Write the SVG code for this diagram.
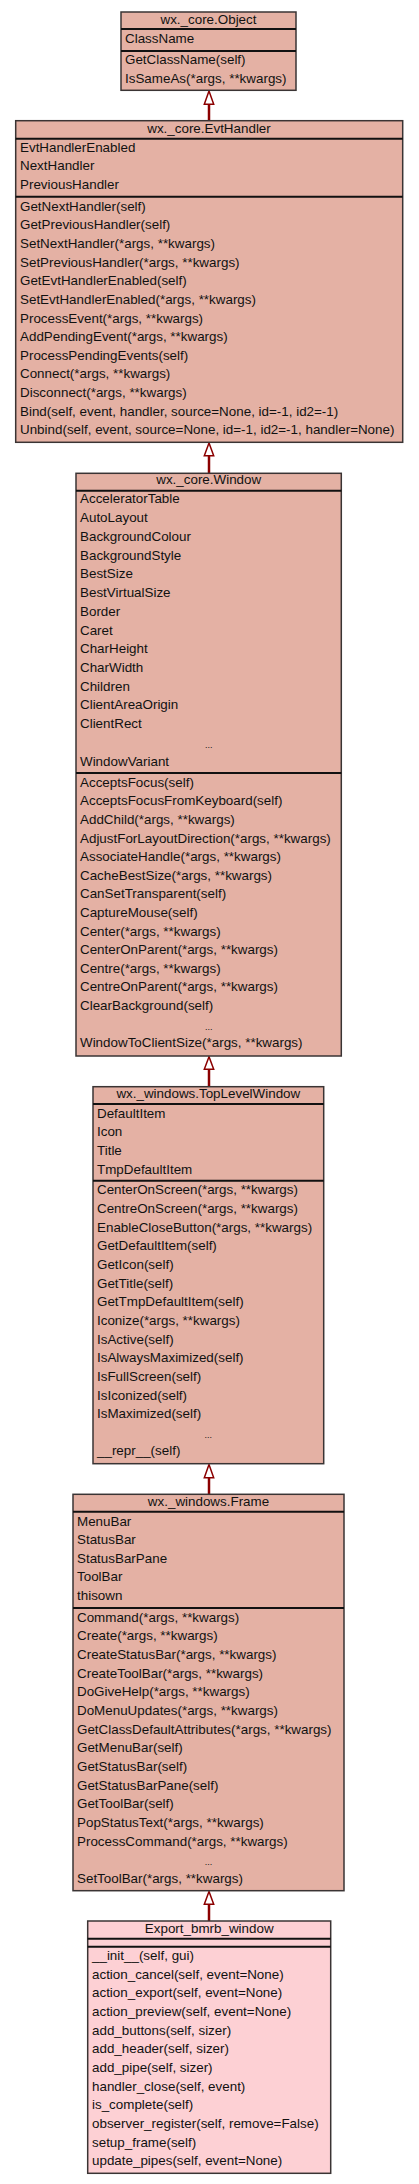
<svg xmlns="http://www.w3.org/2000/svg" width="419" height="2184" viewBox="0 0 419 2184">
<style>
.box{fill:#e4b1a4;stroke:#3a3434;stroke-width:1.5}
.exp{fill:#fdd0d4;stroke:#3a3434;stroke-width:1.5}
.sep{stroke:#111;stroke-width:2}
text{font-family:"Liberation Sans",Arial,sans-serif;font-size:13.4px;fill:#111}
.c{text-anchor:middle}
.d{text-anchor:middle;font-size:9px}
.edge{stroke:#8b0000;stroke-width:2.5;fill:none}
.head{fill:#fff;stroke:#8b0000;stroke-width:1.5}
</style>
<rect width="419" height="2184" fill="#fff"/>
<g id="connectors">
<line class="edge" x1="209" y1="104.3" x2="209" y2="120.7"/>
<polygon class="head" points="209,91 204.3,104.3 213.7,104.3"/>
<line class="edge" x1="209" y1="455.7" x2="209" y2="473.3"/>
<polygon class="head" points="209,443 204.3,455.7 213.7,455.7"/>
<line class="edge" x1="209" y1="1069.3" x2="209" y2="1086.7"/>
<polygon class="head" points="209,1056.7 204.3,1069.3 213.7,1069.3"/>
<line class="edge" x1="209" y1="1477.7" x2="209" y2="1494.3"/>
<polygon class="head" points="209,1464.4 204.3,1477.7 213.7,1477.7"/>
<line class="edge" x1="209" y1="1904.3" x2="209" y2="1921"/>
<polygon class="head" points="209,1891.4 204.3,1904.3 213.7,1904.3"/>
</g>
<g id="object">
<rect class="box" x="121" y="12" width="175" height="78.3"/>
<line class="sep" x1="121" y1="29" x2="296" y2="29"/>
<line class="sep" x1="121" y1="51" x2="296" y2="51"/>
<text class="c" x="208.5" y="24">wx._core.Object</text>
<text x="125" y="43">ClassName</text>
<text x="125" y="64">GetClassName(self)</text>
<text x="125" y="83">IsSameAs(*args, **kwargs)</text>
</g>
<g id="evthandler">
<rect class="box" x="15.7" y="120.7" width="387" height="321.6"/>
<line class="sep" x1="15.7" y1="138.7" x2="402.7" y2="138.7"/>
<line class="sep" x1="15.7" y1="196.7" x2="402.7" y2="196.7"/>
<text class="c" x="209" y="132.7">wx._core.EvtHandler</text>
<text x="20" y="151.7">EvtHandlerEnabled</text>
<text x="20" y="170.4">NextHandler</text>
<text x="20" y="189.1">PreviousHandler</text>
<text x="20" y="210.7">GetNextHandler(self)</text>
<text x="20" y="229.3">GetPreviousHandler(self)</text>
<text x="20" y="248">SetNextHandler(*args, **kwargs)</text>
<text x="20" y="266.6">SetPreviousHandler(*args, **kwargs)</text>
<text x="20" y="285.2">GetEvtHandlerEnabled(self)</text>
<text x="20" y="303.9">SetEvtHandlerEnabled(*args, **kwargs)</text>
<text x="20" y="322.5">ProcessEvent(*args, **kwargs)</text>
<text x="20" y="341.1">AddPendingEvent(*args, **kwargs)</text>
<text x="20" y="359.7">ProcessPendingEvents(self)</text>
<text x="20" y="378.4">Connect(*args, **kwargs)</text>
<text x="20" y="397">Disconnect(*args, **kwargs)</text>
<text x="20" y="415.6">Bind(self, event, handler, source=None, id=-1, id2=-1)</text>
<text x="20" y="434.3">Unbind(self, event, source=None, id=-1, id2=-1, handler=None)</text>
</g>
<g id="window">
<rect class="box" x="76" y="473.3" width="265.3" height="582.7"/>
<line class="sep" x1="76" y1="490.7" x2="341.3" y2="490.7"/>
<line class="sep" x1="76" y1="773" x2="341.3" y2="773"/>
<text class="c" x="208.7" y="484.3">wx._core.Window</text>
<text x="80" y="503.3">AcceleratorTable</text>
<text x="80" y="522">AutoLayout</text>
<text x="80" y="540.8">BackgroundColour</text>
<text x="80" y="559.5">BackgroundStyle</text>
<text x="80" y="578.3">BestSize</text>
<text x="80" y="597">BestVirtualSize</text>
<text x="80" y="615.7">Border</text>
<text x="80" y="634.5">Caret</text>
<text x="80" y="653.2">CharHeight</text>
<text x="80" y="672">CharWidth</text>
<text x="80" y="690.7">Children</text>
<text x="80" y="709.4">ClientAreaOrigin</text>
<text x="80" y="728.2">ClientRect</text>
<text class="d" x="208.7" y="748">...</text>
<text x="80" y="765.7">WindowVariant</text>
<text x="80" y="786.7">AcceptsFocus(self)</text>
<text x="80" y="805.3">AcceptsFocusFromKeyboard(self)</text>
<text x="80" y="823.9">AddChild(*args, **kwargs)</text>
<text x="80" y="842.5">AdjustForLayoutDirection(*args, **kwargs)</text>
<text x="80" y="861.1">AssociateHandle(*args, **kwargs)</text>
<text x="80" y="879.8">CacheBestSize(*args, **kwargs)</text>
<text x="80" y="898.4">CanSetTransparent(self)</text>
<text x="80" y="917">CaptureMouse(self)</text>
<text x="80" y="935.6">Center(*args, **kwargs)</text>
<text x="80" y="954.2">CenterOnParent(*args, **kwargs)</text>
<text x="80" y="972.8">Centre(*args, **kwargs)</text>
<text x="80" y="991.4">CentreOnParent(*args, **kwargs)</text>
<text x="80" y="1010">ClearBackground(self)</text>
<text class="d" x="208.7" y="1029.6">...</text>
<text x="80" y="1047.3">WindowToClientSize(*args, **kwargs)</text>
</g>
<g id="toplevelwindow">
<rect class="box" x="93" y="1086.7" width="230.7" height="377"/>
<line class="sep" x1="93" y1="1104" x2="323.7" y2="1104"/>
<line class="sep" x1="93" y1="1180.7" x2="323.7" y2="1180.7"/>
<text class="c" x="208.3" y="1097.7">wx._windows.TopLevelWindow</text>
<text x="97" y="1117.7">DefaultItem</text>
<text x="97" y="1136.3">Icon</text>
<text x="97" y="1154.9">Title</text>
<text x="97" y="1173.5">TmpDefaultItem</text>
<text x="97" y="1194.3">CenterOnScreen(*args, **kwargs)</text>
<text x="97" y="1213">CentreOnScreen(*args, **kwargs)</text>
<text x="97" y="1231.6">EnableCloseButton(*args, **kwargs)</text>
<text x="97" y="1250.3">GetDefaultItem(self)</text>
<text x="97" y="1268.9">GetIcon(self)</text>
<text x="97" y="1287.6">GetTitle(self)</text>
<text x="97" y="1306.2">GetTmpDefaultItem(self)</text>
<text x="97" y="1324.9">Iconize(*args, **kwargs)</text>
<text x="97" y="1343.5">IsActive(self)</text>
<text x="97" y="1362.2">IsAlwaysMaximized(self)</text>
<text x="97" y="1380.8">IsFullScreen(self)</text>
<text x="97" y="1399.5">IsIconized(self)</text>
<text x="97" y="1418.1">IsMaximized(self)</text>
<text class="d" x="208.3" y="1437.8">...</text>
<text x="97" y="1455.4">__repr__(self)</text>
</g>
<g id="frame">
<rect class="box" x="73" y="1494.3" width="271" height="396.4"/>
<line class="sep" x1="73" y1="1511.7" x2="344" y2="1511.7"/>
<line class="sep" x1="73" y1="1608" x2="344" y2="1608"/>
<text class="c" x="208.5" y="1505.7">wx._windows.Frame</text>
<text x="77" y="1525.7">MenuBar</text>
<text x="77" y="1544.2">StatusBar</text>
<text x="77" y="1562.7">StatusBarPane</text>
<text x="77" y="1581.2">ToolBar</text>
<text x="77" y="1599.7">thisown</text>
<text x="77" y="1621.7">Command(*args, **kwargs)</text>
<text x="77" y="1640.4">Create(*args, **kwargs)</text>
<text x="77" y="1659">CreateStatusBar(*args, **kwargs)</text>
<text x="77" y="1677.7">CreateToolBar(*args, **kwargs)</text>
<text x="77" y="1696.3">DoGiveHelp(*args, **kwargs)</text>
<text x="77" y="1715">DoMenuUpdates(*args, **kwargs)</text>
<text x="77" y="1733.6">GetClassDefaultAttributes(*args, **kwargs)</text>
<text x="77" y="1752.3">GetMenuBar(self)</text>
<text x="77" y="1770.9">GetStatusBar(self)</text>
<text x="77" y="1789.6">GetStatusBarPane(self)</text>
<text x="77" y="1808.2">GetToolBar(self)</text>
<text x="77" y="1826.9">PopStatusText(*args, **kwargs)</text>
<text x="77" y="1845.5">ProcessCommand(*args, **kwargs)</text>
<text class="d" x="208.5" y="1865.2">...</text>
<text x="77" y="1882.8">SetToolBar(*args, **kwargs)</text>
</g>
<g id="export_bmrb_window">
<rect class="exp" x="87.7" y="1921" width="243" height="252.3"/>
<line class="sep" x1="87.7" y1="1938.7" x2="330.7" y2="1938.7"/>
<line class="sep" x1="87.7" y1="1946.7" x2="330.7" y2="1946.7"/>
<text class="c" x="209.2" y="1932.7">Export_bmrb_window</text>
<text x="92" y="1960">__init__(self, gui)</text>
<text x="92" y="1978.7">action_cancel(self, event=None)</text>
<text x="92" y="1997.3">action_export(self, event=None)</text>
<text x="92" y="2016">action_preview(self, event=None)</text>
<text x="92" y="2034.6">add_buttons(self, sizer)</text>
<text x="92" y="2053.3">add_header(self, sizer)</text>
<text x="92" y="2071.9">add_pipe(self, sizer)</text>
<text x="92" y="2090.6">handler_close(self, event)</text>
<text x="92" y="2109.2">is_complete(self)</text>
<text x="92" y="2127.9">observer_register(self, remove=False)</text>
<text x="92" y="2146.5">setup_frame(self)</text>
<text x="92" y="2165.2">update_pipes(self, event=None)</text>
</g>
</svg>
